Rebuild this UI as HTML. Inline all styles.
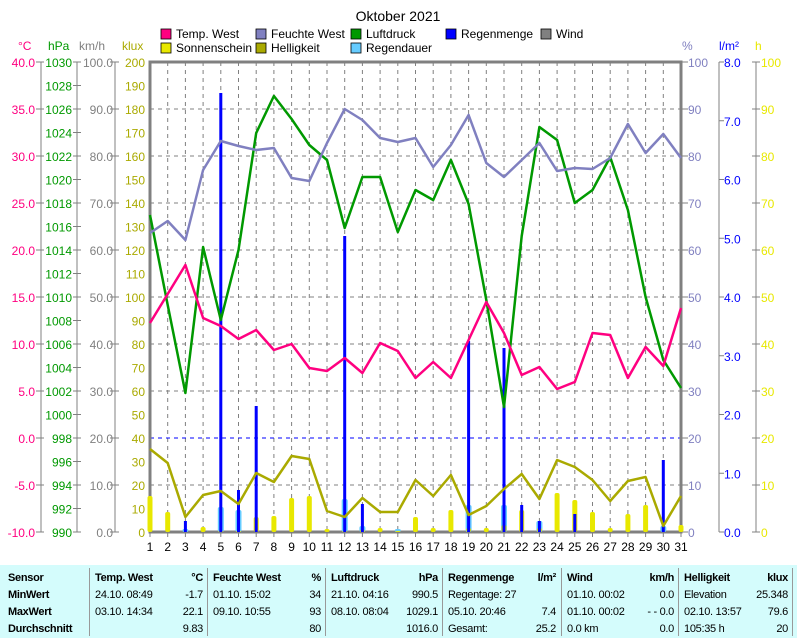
<!DOCTYPE html>
<html><head><meta charset="utf-8"><style>
body{margin:0;background:#fff;width:797px;height:638px;overflow:hidden;font-family:"Liberation Sans",sans-serif}
svg{position:absolute;left:0;top:0}
.t{position:absolute;left:0;top:565px;width:797px;height:73px;background:#d4fcfc}
.c{position:absolute;font:bold 11px "Liberation Sans",sans-serif;letter-spacing:-0.3px;white-space:nowrap}
.n{font-weight:normal}
.v{position:absolute;top:568px;width:1px;height:68px;background:#999}
</style></head><body>
<svg id="s" width="797" height="560" font-family="Liberation Sans, sans-serif" font-size="12"></svg>
<div class="t"></div>
<div id="tb"></div>
<script>
const s=document.getElementById('s');let h='';
const X=d=>150+(d-1)*17.7;
h+='<text x="398" y="21" text-anchor="middle" font-size="14">Oktober 2021</text>';
for(let d=2;d<=30;d++)h+=`<line x1="${X(d)}" y1="62" x2="${X(d)}" y2="532" stroke="#808080" stroke-dasharray="4,4"/>`;
for(let k=20;k<200;k+=20){const y=532-k*2.35;h+=`<line x1="150" y1="${y}" x2="681" y2="${y}" stroke="${k==40?'#0000ff':'#808080'}" stroke-dasharray="4,4"/>`;}
h+='<path d="M150 62H681V532H150Z" fill="none" stroke="#808080" stroke-width="3"/>';
for(let i=0;i<=10;i++){const y=62+i*47;const c=40-i*5;h+=`<text x="35" y="${y+5}" text-anchor="end" fill="#ff0080">${c.toFixed(1)}</text><line x1="36" y1="${y}" x2="44" y2="${y}" stroke="#808080"/>`;
h+=`<text x="113" y="${y+5}" text-anchor="end" fill="#808080">${(100-i*10).toFixed(1)}</text><line x1="110" y1="${y}" x2="119" y2="${y}" stroke="#808080"/>`;}
for(let i=0;i<=20;i++){const y=62+i*23.5;h+=`<text x="72" y="${y+5}" text-anchor="end" fill="#009900">${1030-i*2}</text><line x1="73" y1="${y}" x2="81" y2="${y}" stroke="#808080"/>`;
h+=`<text x="145" y="${y+5}" text-anchor="end" fill="#aaaa00">${200-i*10}</text>`;}
h+='<line x1="41" y1="62" x2="41" y2="532" stroke="#808080"/><line x1="77" y1="62" x2="77" y2="532" stroke="#808080"/><line x1="115" y1="62" x2="115" y2="532" stroke="#808080"/>';
h+='<text x="18" y="50" fill="#ff0080">°C</text><text x="48" y="50" fill="#009900">hPa</text><text x="79" y="50" fill="#808080">km/h</text><text x="122" y="50" fill="#aaaa00">klux</text>';
for(let i=0;i<=10;i++){const y=62+i*47;h+=`<line x1="681" y1="${y}" x2="688" y2="${y}" stroke="#808080"/><text x="688" y="${y+5}" fill="#8080c0">${100-i*10}</text><line x1="752" y1="${y}" x2="760" y2="${y}" stroke="#808080"/><text x="761" y="${y+5}" fill="#e8e800">${100-i*10}</text>`;}
for(let i=0;i<=8;i++){const y=62+i*58.75;h+=`<line x1="719" y1="${y}" x2="724" y2="${y}" stroke="#808080"/><text x="724" y="${y+5}" fill="#0000ff">${(8-i).toFixed(1)}</text>`;}
h+='<line x1="719" y1="62" x2="719" y2="532" stroke="#808080"/><line x1="756" y1="62" x2="756" y2="532" stroke="#808080"/>';
h+='<text x="682" y="50" fill="#8080c0">%</text><text x="719" y="50" fill="#0000ff">l/m²</text><text x="755" y="50" fill="#e8e800">h</text>';
for(let d=1;d<=31;d++)h+=`<line x1="${X(d)}" y1="532" x2="${X(d)}" y2="537" stroke="#808080"/><text x="${X(d)}" y="551" text-anchor="middle">${d}</text>`;
const L=[[161,38,'#ff0080','Temp. West'],[256,38,'#8080c0','Feuchte West'],[351,38,'#009900','Luftdruck'],[446,38,'#0000ff','Regenmenge'],[541,38,'#808080','Wind'],[161,52,'#e8e800','Sonnenschein'],[256,52,'#aaaa00','Helligkeit'],[351,52,'#66ccff','Regendauer']];
L.forEach(l=>h+=`<rect x="${l[0]}" y="${l[1]-9}" width="10" height="10" fill="${l[2]}" stroke="#000" stroke-width="0.8"/><text x="${l[0]+15}" y="${l[1]}">${l[3]}</text>`);
const sun=[496,512,532,527,531,531,517,516,498,496,529,531,530,528,531,517,528,510,528,528,525,510,528,493,500,512,528,514,505,532,525];
const rd={3:529,5:507,6:510,12:499,13:526,15:529,19:505,21:505,23:521,30:526};
for(const d in rd){const y=rd[d];h+=`<rect x="${X(+d)-3}" y="${y}" width="6" height="${532-y}" rx="2" fill="#66ccff"/>`;}
sun.forEach((y,i)=>{if(y<532)h+=`<rect x="${X(i+1)-2.5}" y="${y}" width="5" height="${532-y}" rx="2" fill="#e8e800"/>`;});
const rn={3:521,5:93,6:490,7:406,12:236,13:504,19:341,21:348,22:505,23:521,25:514,30:460};
for(const d in rn)h+=`<rect x="${X(+d)-1.5}" y="${rn[d]}" width="3" height="${532-rn[d]}" fill="#0000ff"/>`;
const P=(a,c)=>`<polyline points="${a.map((y,i)=>X(i+1)+','+y).join(' ')}" fill="none" stroke="${c}" stroke-width="2.5" stroke-linejoin="round"/>`;
h+=P([449,463,517,495,491,504,473,482,456,459,511,517,498,512,512,480,496,475,515,506,489,474,499,460,467,480,501,481,477,526,496],'#aaaa00');
h+=P([215,305,393,247,320,250,133,96,119,145,160,228,177,177,232,190,200,160,204,300,407,236,127,140,203,190,157,210,297,360,388],'#009900');
h+=P([233,221,240,170,141,146,150,148,178,181,143,109,120,138,142,138,167,145,115,163,177,160,143,171,168,169,158,124,153,134,158],'#8080c0');
h+=P([323,294,265,318,326,339,330,350,344,368,371,358,373,343,351,378,362,378,340,302,333,375,367,389,382,333,335,378,347,366,308],'#ff0080');
s.innerHTML=h;
const cols=[[8,89],[95,207],[213,325],[331,442],[448,560],[567,678],[684,792]];
const rows=[["Sensor","MinWert","MaxWert","Durchschnitt"],
[["Temp. West","°C"],["24.10.  08:49","-1.7"],["03.10.  14:34","22.1"],["","9.83"]],
[["Feuchte West","%"],["01.10.  15:02","34"],["09.10.  10:55","93"],["","80"]],
[["Luftdruck","hPa"],["21.10.  04:16","990.5"],["08.10.  08:04","1029.1"],["","1016.0"]],
[["Regenmenge","l/m²"],["Regentage: 27",""],["05.10.  20:46","7.4"],["Gesamt:","25.2"]],
[["Wind","km/h"],["01.10.  00:02","0.0"],["01.10.  00:02","- - 0.0"],["0.0 km","0.0"]],
[["Helligkeit","klux"],["Elevation","25.348"],["02.10.  13:57","79.6"],["105:35 h","20"]]];
let t='';const Y=[572,589,606,623];
rows.forEach((r,ci)=>{const [a,b]=cols[ci];
if(ci>0)t+=`<div class="v" style="left:${a-6}px"></div>`;
r.forEach((cell,ri)=>{if(ci==0){t+=`<div class="c" style="left:${a}px;top:${Y[ri]}px">${cell}</div>`;return;}
const cls=ri==0?'c':'c n';
t+=`<div class="${cls}" style="left:${a}px;top:${Y[ri]}px">${cell[0]}</div><div class="${cls}" style="left:${a}px;width:${b-a-4}px;text-align:right;top:${Y[ri]}px">${cell[1]}</div>`;});});
t+=`<div class="v" style="left:792px"></div>`;
document.getElementById('tb').innerHTML=t;
</script>
</body></html>
